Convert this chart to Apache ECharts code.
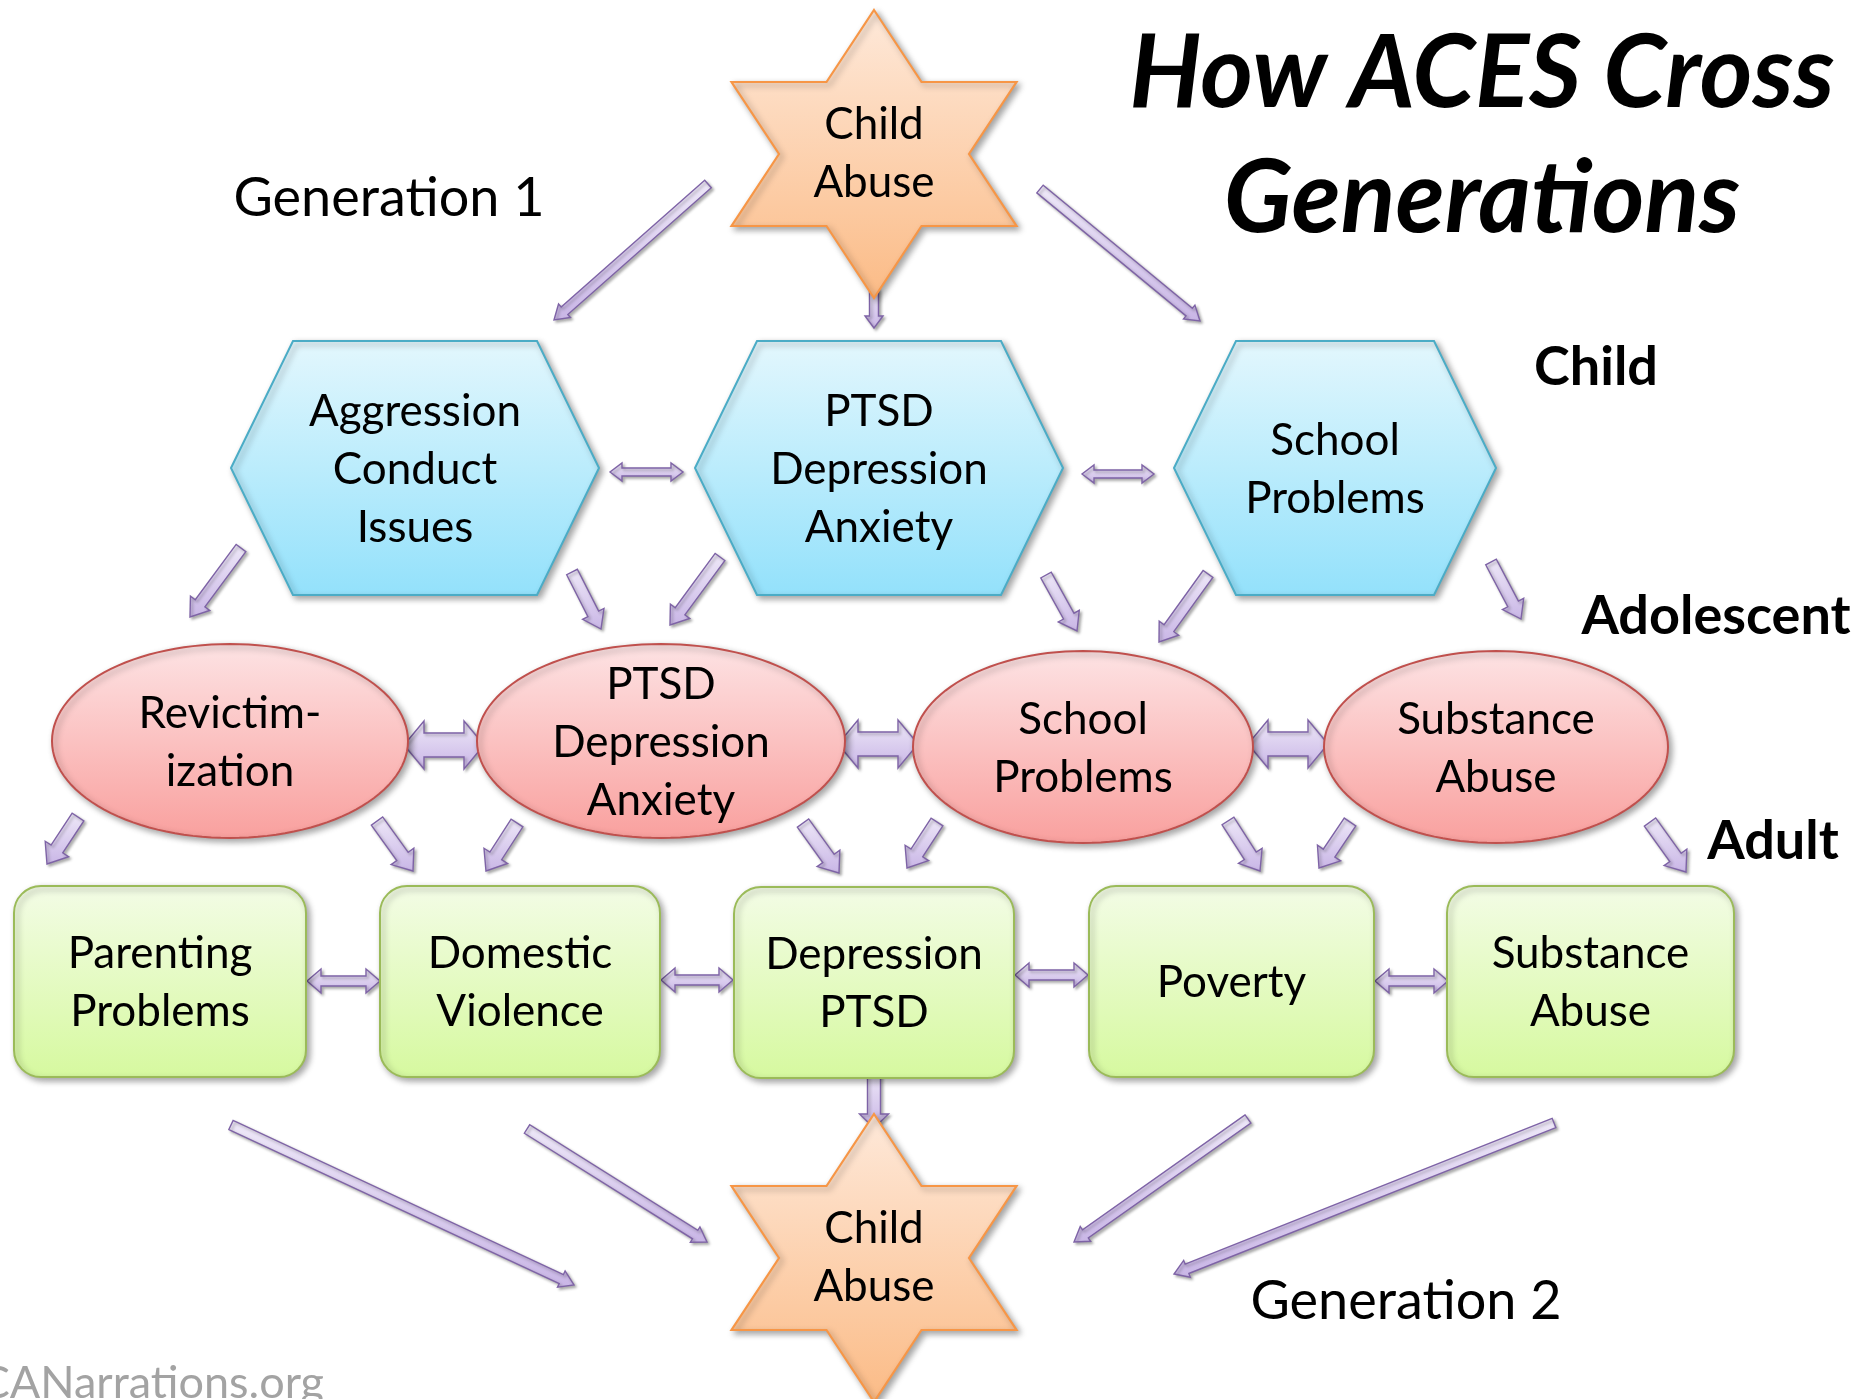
<!DOCTYPE html>
<html>
<head>
<meta charset="utf-8">
<script src="https://cdn.jsdelivr.net/npm/echarts@6/dist/echarts.min.js"></script>
<style>html,body{margin:0;padding:0;background:#fff;}#chart{width:1860px;height:1399px;}</style>
</head>
<body>
<div id="chart"></div>
<script>
// ---- content ----
const titleLines = ['How ACES Cross', 'Generations'];
const generationLabels = ['Generation 1', 'Generation 2'];
const stageLabels = ['Child', 'Adolescent', 'Adult'];
const starLabels = ['Child\nAbuse', 'Child\nAbuse'];
const childLabels = ['Aggression\nConduct\nIssues', 'PTSD\nDepression\nAnxiety', 'School\nProblems'];
const adolescentLabels = ['Revictim-\nization', 'PTSD\nDepression\nAnxiety', 'School\nProblems', 'Substance\nAbuse'];
const adultLabels = ['Parenting\nProblems', 'Domestic\nViolence', 'Depression\nPTSD', 'Poverty', 'Substance\nAbuse'];
const sourceLabel = ['CANarrations.org'];

// ---- layout (diagram space, 1860 x 1399) ----
const starLayout = [[874, 154], [874, 1258]];
const hexLayout = [[415, 468, 184], [879, 468, 184], [1335, 468, 161]];
const ellipseLayout = [[230, 741, 178, 97], [661, 741, 184, 97], [1083, 747, 170, 96], [1496, 747, 172, 96]];
const rectLayout = [[14, 886, 292, 191], [380, 886, 280, 191], [734, 887, 280, 191], [1089, 886, 285, 191], [1447, 886, 287, 191]];
const titleLayout = [[1482, 74], [1482, 199]];
const generationLayout = [[389, 199], [1406, 1302]];
const stageLayout = [[1596, 368], [1716, 617], [1773, 842]];
const sourceLayout = [[324, 1383]];
// arrows: x0,y0 (tail), x1,y1 (head), kind, double
const arrowLayout = [
  [708, 184, 554, 320, 'thin', 0],
  [874, 289, 874, 328, 'short', 0],
  [1040, 189, 1200, 321, 'thin', 0],
  [610, 472, 683, 472, 'dbl', 1],
  [1082, 474, 1154, 474, 'dbl', 1],
  [241, 548, 190, 617, 'mid', 0],
  [572, 572, 601, 629, 'mid', 0],
  [720, 557, 670, 625, 'mid', 0],
  [1046, 575, 1077, 631, 'mid', 0],
  [1208, 574, 1159, 642, 'mid', 0],
  [1491, 562, 1521, 619, 'mid', 0],
  [404, 745, 484, 745, 'fat', 1],
  [838, 744, 918, 744, 'fat', 1],
  [1248, 744, 1328, 744, 'fat', 1],
  [78, 817, 47, 864, 'low', 0],
  [377, 821, 413, 871, 'low', 0],
  [517, 823, 486, 871, 'low', 0],
  [803, 823, 839, 873, 'low', 0],
  [937, 822, 907, 868, 'low', 0],
  [1228, 821, 1260, 871, 'low', 0],
  [1350, 822, 1319, 868, 'low', 0],
  [1650, 822, 1686, 872, 'low', 0],
  [307, 981, 380, 981, 'dblr', 1],
  [661, 980, 733, 980, 'dblr', 1],
  [1015, 975, 1088, 975, 'dblr', 1],
  [1375, 981, 1448, 981, 'dblr', 1],
  [874, 1072, 874, 1128, 'down', 0],
  [231, 1125, 574, 1285, 'thin', 0],
  [527, 1129, 707, 1242, 'thin', 0],
  [1248, 1119, 1074, 1242, 'thin', 0],
  [1554, 1123, 1174, 1274, 'thin', 0]
];
const arrowKinds = { thin: [5, 9, 14], short: [4.5, 9, 12], down: [6.5, 14.5, 14], mid: [6, 12, 17], low: [7, 14, 18], fat: [12, 24, 20], dbl: [4, 9, 12], dblr: [5, 12, 14] };

const FONT = 'Lato, "Open Sans", sans-serif';
const SHAPE_FS = 44, SHAPE_LH = 58;
const G = echarts.graphic;
const grad = (a, b) => new G.LinearGradient(0, 0, 0, 1, [{ offset: 0, color: a }, { offset: 1, color: b }]);
const shadow = { shadowColor: 'rgba(0,0,0,0.35)', shadowBlur: 6, shadowOffsetX: 3, shadowOffsetY: 3 };

function px(api, x, y) { return api.coord([x, y]); }
function sz(api, w, h) { return api.size([w, h]); }

function textEl(p, text, fs, extra) {
  return {
    type: 'text',
    style: Object.assign({ text: text, x: p[0], y: p[1], align: 'center', verticalAlign: 'middle', fontSize: fs, lineHeight: SHAPE_LH, fontFamily: FONT, fill: '#000' }, extra || {})
  };
}

const base = { type: 'custom', coordinateSystem: 'cartesian2d', silent: true, clip: false, animation: false };

const series = [];

// arrows (drawn first)
series.push(Object.assign({}, base, {
  data: arrowLayout.map(a => [a[0], a[1], a[2], a[3]]),
  renderItem: function (params, api) {
    const a = arrowLayout[params.dataIndex];
    const p0 = px(api, api.value(0), api.value(1));
    const p1 = px(api, api.value(2), api.value(3));
    const k = arrowKinds[a[4]];
    const s = sz(api, k[0], k[0])[0], hw = sz(api, k[1], k[1])[0], hl = sz(api, k[2], k[2])[0];
    const dx = p1[0] - p0[0], dy = p1[1] - p0[1], L = Math.hypot(dx, dy);
    const ux = dx / L, uy = dy / L, nx = -uy, ny = ux;
    const P = (b, d, w) => [b[0] + ux * d + nx * w, b[1] + uy * d + ny * w];
    let pts;
    if (a[5]) {
      pts = [p0, P(p0, hl, hw), P(p0, hl, s), P(p1, -hl, s), P(p1, -hl, hw), p1, P(p1, -hl, -hw), P(p1, -hl, -s), P(p0, hl, -s), P(p0, hl, -hw)];
    } else {
      pts = [P(p0, 0, s), P(p1, -hl, s), P(p1, -hl, hw), p1, P(p1, -hl, -hw), P(p1, -hl, -s), P(p0, 0, -s)];
    }
    return { type: 'polygon', shape: { points: pts }, style: { fill: grad('#eee8f8', '#c9b6e6'), stroke: '#7e63a6', lineWidth: 1.4, shadowColor: 'rgba(0,0,0,0.3)', shadowBlur: 3, shadowOffsetX: 2, shadowOffsetY: 2 } };
  }
}));

// stars
series.push(Object.assign({}, base, {
  data: starLayout,
  renderItem: function (params, api) {
    const c = px(api, api.value(0), api.value(1));
    const R = sz(api, 144, 144)[1], sx = 142.5 / (144 * Math.cos(Math.PI / 6));
    const r = R / Math.sqrt(3);
    const pts = [];
    for (let i = 0; i < 12; i++) {
      const ang = -Math.PI / 2 + i * Math.PI / 6;
      const rr = i % 2 === 0 ? R : r;
      pts.push([c[0] + Math.cos(ang) * rr * sx, c[1] + Math.sin(ang) * rr]);
    }
    return { type: 'group', children: [
      { type: 'polygon', shape: { points: pts }, style: Object.assign({ fill: grad('#fee9da', '#fbbb86'), stroke: '#f79646', lineWidth: 2.2 }, shadow) },
      textEl([c[0], c[1]], starLabels[params.dataIndex], SHAPE_FS)
    ] };
  }
}));

// hexagons (child)
series.push(Object.assign({}, base, {
  data: hexLayout.map(h => [h[0], h[1]]),
  renderItem: function (params, api) {
    const h = hexLayout[params.dataIndex];
    const c = px(api, api.value(0), api.value(1));
    const hw = sz(api, h[2], 0)[0], hh = sz(api, 0, 127)[1], ins = sz(api, 62, 0)[0];
    const pts = [[c[0] - hw, c[1]], [c[0] - hw + ins, c[1] - hh], [c[0] + hw - ins, c[1] - hh], [c[0] + hw, c[1]], [c[0] + hw - ins, c[1] + hh], [c[0] - hw + ins, c[1] + hh]];
    return { type: 'group', children: [
      { type: 'polygon', shape: { points: pts }, style: Object.assign({ fill: grad('#e3f7fd', '#93e1fb'), stroke: '#4bacc6', lineWidth: 2 }, shadow) },
      textEl([c[0], c[1] + 2], childLabels[params.dataIndex], SHAPE_FS)
    ] };
  }
}));

// ellipses (adolescent)
series.push(Object.assign({}, base, {
  data: ellipseLayout.map(e => [e[0], e[1]]),
  renderItem: function (params, api) {
    const e = ellipseLayout[params.dataIndex];
    const c = px(api, api.value(0), api.value(1));
    const s = sz(api, e[2], e[3]);
    const pts = [];
    for (let i = 0; i < 120; i++) {
      const t = i / 120 * Math.PI * 2;
      pts.push([c[0] + Math.cos(t) * s[0], c[1] + Math.sin(t) * s[1]]);
    }
    return { type: 'group', children: [
      { type: 'polygon', shape: { points: pts }, style: Object.assign({ fill: grad('#fde3e4', '#f9a09e'), stroke: '#c0504d', lineWidth: 2 }, shadow) },
      textEl([c[0], c[1] + 2], adolescentLabels[params.dataIndex], SHAPE_FS)
    ] };
  }
}));

// rounded rects (adult)
series.push(Object.assign({}, base, {
  data: rectLayout.map(r => [r[0], r[1]]),
  renderItem: function (params, api) {
    const r = rectLayout[params.dataIndex];
    const p = px(api, api.value(0), api.value(1));
    const s = sz(api, r[2], r[3]);
    return { type: 'group', children: [
      { type: 'rect', shape: { x: p[0], y: p[1], width: s[0], height: s[1], r: 27 }, style: Object.assign({ fill: grad('#f3fce6', '#d6f99f'), stroke: '#9bbb59', lineWidth: 2 }, shadow) },
      textEl([p[0] + s[0] / 2, p[1] + s[1] / 2 + 1], adultLabels[params.dataIndex], SHAPE_FS)
    ] };
  }
}));

// titles
series.push(Object.assign({}, base, {
  data: titleLayout,
  renderItem: function (params, api) {
    const p = px(api, api.value(0), api.value(1));
    return textEl(p, titleLines[params.dataIndex], 101, { fontWeight: 'bold', fontStyle: 'italic', lineHeight: 110 });
  }
}));
series.push(Object.assign({}, base, {
  data: generationLayout,
  renderItem: function (params, api) {
    const p = px(api, api.value(0), api.value(1));
    return textEl(p, generationLabels[params.dataIndex], 54);
  }
}));
series.push(Object.assign({}, base, {
  data: stageLayout,
  renderItem: function (params, api) {
    const p = px(api, api.value(0), api.value(1));
    return textEl(p, stageLabels[params.dataIndex], 54, { fontWeight: 'bold' });
  }
}));
series.push(Object.assign({}, base, {
  data: sourceLayout,
  renderItem: function (params, api) {
    const p = px(api, api.value(0), api.value(1));
    return textEl(p, sourceLabel[params.dataIndex], 45, { align: 'right', fill: '#a3a3a3' });
  }
}));

const chart = echarts.init(document.getElementById('chart'), null, { renderer: 'canvas' });
chart.setOption({
  backgroundColor: '#ffffff',
  animation: false,
  grid: { left: 0, right: 0, top: 0, bottom: 0 },
  xAxis: { type: 'value', min: 0, max: 1860, show: false },
  yAxis: { type: 'value', min: 0, max: 1399, inverse: true, show: false },
  series: series
});
</script>
</body>
</html>
